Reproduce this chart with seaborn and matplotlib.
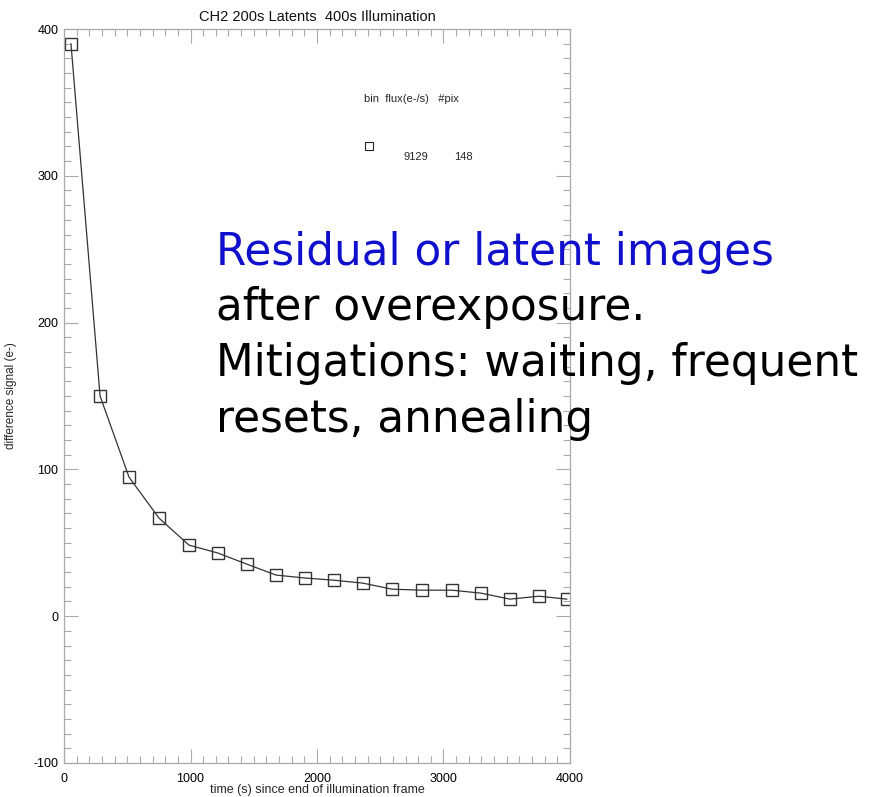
import matplotlib
matplotlib.use("Agg")
import matplotlib.pyplot as plt
import seaborn as sns
import pandas as pd
from matplotlib.ticker import MultipleLocator

sns.set_theme(style="white")
plt.rcParams['font.family'] = ['Liberation Sans', 'DejaVu Sans']
plt.rcParams['axes.unicode_minus'] = False

time_s = [55, 285, 514, 751, 988, 1217, 1447, 1676, 1905, 2134, 2364, 2593, 2830, 3067, 3296, 3526, 3755, 3976]
signal = [390, 150, 94.7, 66.8, 48.4, 43, 35.4, 28, 26, 24.5, 22.5, 18.4, 17.7, 17.7, 15.7, 11.6, 13.6, 11.6]
x_ticks = [0, 1000, 2000, 3000, 4000]
y_ticks = [-100, 0, 100, 200, 300, 400]

df = pd.DataFrame({"time": time_s, "signal": signal})

fig = plt.figure(figsize=(8.83, 7.97), dpi=100)
ax = fig.add_axes([0.0725, 0.0427, 0.5730, 0.9209])
sns.lineplot(data=df, x="time", y="signal", ax=ax, color="#333333", linewidth=0.9,
             marker="s", markersize=8, markerfacecolor="none", markeredgecolor="#333333",
             markeredgewidth=1.0)

ax.set_xlim(0, 4000)
ax.set_ylim(-100, 400)
ax.set_xticks(x_ticks)
ax.set_yticks(y_ticks)
ax.xaxis.set_minor_locator(MultipleLocator(100))
ax.yaxis.set_minor_locator(MultipleLocator(10))
ax.tick_params(which="both", direction="in", top=True, right=True, bottom=True, left=True,
               color="#aaaaaa", labelsize=9, labelcolor="black", width=0.8)
ax.tick_params(which="major", length=10)
ax.tick_params(which="minor", length=5)
ax.tick_params(axis="x", which="major", pad=7)
ax.tick_params(axis="y", which="major", pad=4)
for s in ax.spines.values():
    s.set_color("#aaaaaa")
    s.set_linewidth(0.9)
ax.set_xlabel("time (s) since end of illumination frame", fontsize=9)
ax.set_ylabel("difference signal (e-)", fontsize=8.5)
ax.yaxis.set_label_coords(-0.093, 0.5)
ax.xaxis.set_label_coords(0.5, -0.028)
ax.set_title("CH2 200s Latents  400s Illumination", fontsize=10.5, pad=6, color="#111111")
ax.grid(False)

# legend-like annotation
ax.text(2370, 350, "bin  flux(e-/s)   #pix", fontsize=8)
ax.plot([2411], [320], marker="s", markersize=5.5, markerfacecolor="none",
        markeredgecolor="#222222", markeredgewidth=0.8, linestyle="none")
ax.text(2680, 311, "9129", fontsize=8)
ax.text(3080, 311, "148", fontsize=8)

lines = [("Residual or latent images", "#1010cc", 265),
         ("after overexposure.", "black", 320),
         ("Mitigations: waiting, frequent", "black", 376),
         ("resets, annealing", "black", 432)]
for txt, col, ypix in lines:
    fig.text(216/883, 1-ypix/797, txt, color=col, fontsize=31.5, va="baseline", ha="left",
             family="DejaVu Sans")

fig.savefig("out.png", dpi=100)
